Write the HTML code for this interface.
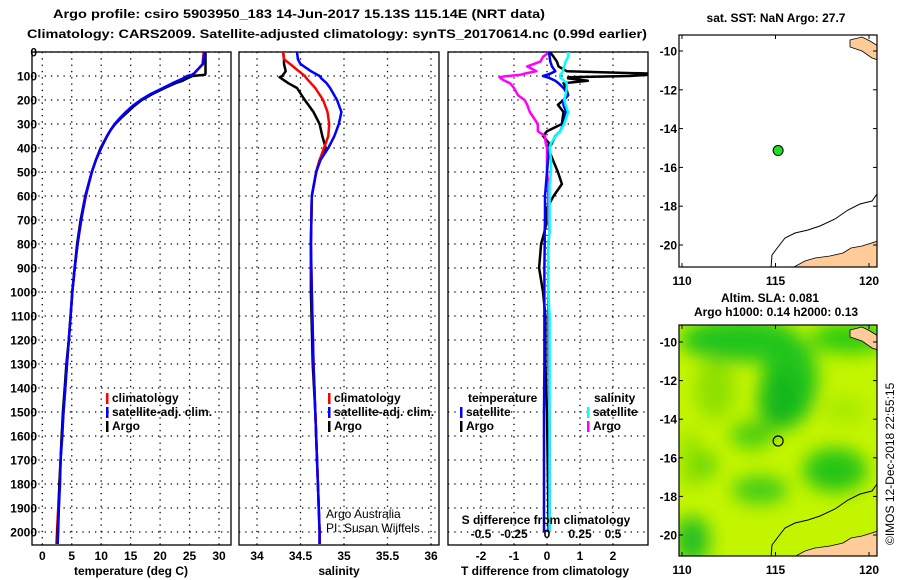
<!DOCTYPE html>
<html><head><meta charset="utf-8">
<style>
html,body{margin:0;padding:0;background:#fff;}
svg{display:block;font-family:"Liberation Sans",Arial,sans-serif;}
.b{font-weight:bold;font-size:12px;}
.r{font-size:12px;}
</style></head>
<body>
<svg id="fig" width="900" height="580" viewBox="0 0 900 580" xmlns="http://www.w3.org/2000/svg">
<defs>
<clipPath id="c1"><rect x="32" y="52" width="199" height="493"/></clipPath>
<clipPath id="c2"><rect x="239" y="52" width="200" height="493"/></clipPath>
<clipPath id="c3"><rect x="448" y="52" width="200" height="493"/></clipPath>
<clipPath id="cm1"><rect x="679" y="35" width="198" height="232"/></clipPath>
<clipPath id="cm2"><rect x="679" y="325" width="198" height="231"/></clipPath>
<filter id="blur" x="-20%" y="-20%" width="140%" height="140%"><feGaussianBlur stdDeviation="9"/></filter>
</defs>
<text x="299" y="18" text-anchor="middle" class="b" font-size="13" textLength="492" lengthAdjust="spacingAndGlyphs">Argo profile: csiro 5903950_183 14-Jun-2017 15.13S 115.14E (NRT data)</text>
<text x="337" y="38" text-anchor="middle" class="b" font-size="13" textLength="620" lengthAdjust="spacingAndGlyphs">Climatology: CARS2009. Satellite-adjusted climatology: synTS_20170614.nc (0.99d earlier)</text>
<g id="grids"></g>
<g id="series"></g>
<g id="maps"></g>
<g id="labels"></g>
</svg>
<script>
// ---------- data ----------
const depthT = [0,50,90,95,100,110,120,130,150,175,200,225,250,275,300,325,350,400,450,500,600,700,800,900,1000,1100,1200,1300,1400,1500,1600,1700,1800,1900,2000,2050];
const argoTemp = [27.7,27.7,27.7,27.6,25.5,24.6,23.8,22.6,20.8,18.7,16.9,15.6,14.5,13.4,12.4,11.6,11.0,9.9,9.1,8.4,7.3,6.5,5.9,5.5,5.1,4.8,4.5,4.1,3.8,3.5,3.3,3.1,2.9,2.8,2.6,2.6];
const climTemp = [27.4,27.2,25.8,25.5,25.0,24.1,23.2,22.3,20.6,18.5,16.7,15.4,14.2,13.2,12.3,11.6,11.0,10.0,9.1,8.4,7.4,6.6,6.0,5.5,5.1,4.8,4.5,4.2,3.9,3.6,3.3,3.1,2.9,2.7,2.5,2.4];
const satTemp = [27.5,27.3,25.7,25.4,24.6,23.9,23.0,22.1,20.5,18.4,16.7,15.3,14.2,13.2,12.3,11.6,11.0,10.0,9.1,8.4,7.3,6.6,6.0,5.5,5.1,4.8,4.5,4.2,3.9,3.6,3.4,3.1,3.0,2.8,2.7,2.6];

const depthS = [0,30,50,80,100,105,110,130,150,200,250,300,350,400,450,500,600,800,1000,1300,1500,1800,2000,2050];
const argoSal = [34.30,34.31,34.31,34.33,34.29,34.26,34.28,34.36,34.46,34.55,34.65,34.72,34.75,34.79,34.72,34.68,34.63,34.62,34.62,34.64,34.67,34.70,34.72,34.72];
const climSal = [34.30,34.31,34.38,34.48,34.55,34.56,34.57,34.62,34.67,34.76,34.81,34.83,34.82,34.77,34.72,34.68,34.63,34.62,34.63,34.65,34.67,34.70,34.72,34.72];
const satSal = [34.46,34.47,34.50,34.62,34.72,34.73,34.74,34.80,34.84,34.92,34.97,34.94,34.89,34.82,34.73,34.68,34.63,34.62,34.63,34.65,34.67,34.70,34.72,34.72];

const depthD = [0,20,40,60,80,90,95,100,105,110,120,130,150,180,200,220,250,300,330,350,380,400,450,500,550,600,650,700,750,800,900,1000,1100,1300,1500,2000];
const argoTdiff = [0.09,0.2,0.3,0.35,0.6,3.1,3.1,2.5,0.64,0.64,1.24,0.5,0.58,0.64,0.5,0.33,0.5,0.45,0.0,-0.12,0.06,0.03,0.18,0.33,0.45,0.2,0.0,0.0,-0.08,-0.18,-0.24,-0.12,-0.05,-0.05,0.0,0.05];
const satTdiff = [0.06,0.08,0.1,0.15,0.25,0.1,0.0,-0.12,0.0,0.1,0.25,0.35,0.5,0.64,0.5,0.5,0.58,0.5,0.4,0.25,0.15,0.06,0.03,0.0,-0.03,-0.06,-0.06,-0.06,-0.07,-0.07,-0.08,-0.08,-0.08,-0.08,-0.09,-0.09];
const satSdiff = [0.16,0.16,0.14,0.13,0.12,0.11,0.10,0.10,0.10,0.11,0.13,0.15,0.15,0.14,0.13,0.14,0.16,0.13,0.1,0.065,0.03,0.02,0.03,0.03,0.02,0.02,0.02,0.02,0.02,0.01,0.01,0.01,0.02,0.02,0.02,0.02];
const argoSdiff = [0.02,-0.03,-0.05,-0.15,-0.08,-0.17,-0.2,-0.3,-0.36,-0.35,-0.32,-0.28,-0.25,-0.22,-0.17,-0.15,-0.13,-0.07,-0.07,-0.015,-0.01,0.0,0.0,0.0,0.01,0.01,0.01,0.01,0.02,0.01,0.01,0.01,0.01,0.01,0.02,0.02];

const depthTicks = [0,100,200,300,400,500,600,700,800,900,1000,1100,1200,1300,1400,1500,1600,1700,1800,1900,2000];
const tempTicks = [0,5,10,15,20,25,30];
const salTicks = ["34","34.5","35","35.5","36"];
const tdiffTicks = ["-2","-1","0","1","2"];
const sdiffTicks = ["-0.5","-0.25","0","0.25","0.5"];
const lonTicks = [110,115,120];
const latTicks = [-10,-12,-14,-16,-18,-20];
const argoLon = 115.14, argoLat = -15.13;

// ---------- axes ----------
const NS = "http://www.w3.org/2000/svg";
const yD = d => 52 + d * 0.24;
const xT = t => 42.3 + t * 5.89;
const xS = s => 257 + (s - 34) * 87;
const xTd = t => 547 + t * 33;
const xSd = s => 547 + s * 132;
const mx = lon => 682 + (lon - 110) * 18.7;
const my1 = lat => 51 + (-10 - lat) * 19.4;
const my2 = lat => 342 + (-10 - lat) * 19.3;

function el(tag, attrs, parent) {
  const e = document.createElementNS(NS, tag);
  for (const k in attrs) e.setAttribute(k, attrs[k]);
  parent.appendChild(e);
  return e;
}
function txt(str, attrs, parent) { const e = el('text', attrs, parent); e.textContent = str; return e; }

const G = document.getElementById('grids');
const S = document.getElementById('series');
const L = document.getElementById('labels');
const M = document.getElementById('maps');

const panels = [
  {x0:32,x1:231,xs:tempTicks.map(xT),lab:tempTicks.map(String),title:"temperature (deg C)",tx:131,clip:'c1',name:'temperature-panel'},
  {x0:239,x1:439,xs:salTicks.map(v=>xS(+v)),lab:salTicks,title:"salinity",tx:339,clip:'c2',name:'salinity-panel'},
  {x0:448,x1:648,xs:tdiffTicks.map(v=>xTd(+v)),lab:tdiffTicks,title:"T difference from climatology",tx:545,clip:'c3',name:'difference-panel'}
];
panels.forEach(p => {
  const g = el('g', {}, G);
  
  
  depthTicks.forEach(d => {
    const ln = el('line', {x1:p.x0,x2:p.x1,y1:yD(d),y2:yD(d),stroke:'#000','stroke-width':1.3,'stroke-dasharray':'1.3 5'}, g);
    
    
  });
  p.xs.forEach((x, i) => {
    const ln = el('line', {x1:x,x2:x,y1:52,y2:545,stroke:'#000','stroke-width':1.3,'stroke-dasharray':'1.3 5'}, g);
    
    
    const t = txt(p.lab[i], {x:x,y:560,'text-anchor':'middle',class:'b'}, L);
    
    
  });
  const r = el('rect', {x:p.x0,y:52,width:p.x1-p.x0,height:493,fill:'none',stroke:'#000','stroke-width':1.3}, g);
  
  
  const t = txt(p.title, {x:p.tx,y:575,'text-anchor':'middle',class:'b'}, L);
  
  
});
depthTicks.forEach(d => {
  const t = txt(String(d), {x:37,y:yD(d)+4.5,'text-anchor':'end',class:'b'}, L);
  
  
});
sdiffTicks.forEach(v => {
  const t = txt(v, {x:xSd(+v),y:538,'text-anchor':'middle',class:'b'}, L);
  
  
});

function line(depths, vals, fx, color, clip, name, w) {
  const d = vals.map((v, i) => (i ? 'L' : 'M') + fx(v).toFixed(1) + ' ' + yD(depths[i]).toFixed(1)).join(' ');
  const p = el('path', {d:d,fill:'none',stroke:color,'stroke-width':w||2.5,'stroke-linejoin':'round','clip-path':'url(#'+clip+')'}, S);
  
  
}
line(depthT, climTemp, xT, '#ff0000', 'c1', 'climatology-temperature-line');
line(depthT, argoTemp, xT, '#000000', 'c1', 'argo-temperature-line');
line(depthT, satTemp, xT, '#0000ff', 'c1', 'satellite-temperature-line');
line(depthS, argoSal, xS, '#000000', 'c2', 'argo-salinity-line');
line(depthS, climSal, xS, '#ff0000', 'c2', 'climatology-salinity-line');
line(depthS, satSal, xS, '#0000ff', 'c2', 'satellite-salinity-line');
line(depthD, argoTdiff, xTd, '#000000', 'c3', 'argo-t-diff-line');
line(depthD, argoSdiff, xSd, '#ff00ff', 'c3', 'argo-s-diff-line');
line(depthD, satTdiff, xTd, '#0000ff', 'c3', 'satellite-t-diff-line');
line(depthD, satSdiff, xSd, '#00ffff', 'c3', 'satellite-s-diff-line');

// legends
function legend(items, x, y0, gname) {
  const g = el('g', {}, L);
  
  
  items.forEach((it, i) => {
    const y = y0 + i * 14;
    if (it[1]) {
      const m = el('rect', {x:x,y:y-9,width:2.5,height:11,fill:it[1]}, g);
      
      
    }
    const t = txt(it[0], {x:x+(it[1]?6:0),y:y,class:'b'}, g);
    
    
  });
}
legend([['climatology','#ff0000'],['satellite-adj. clim.','#0000ff'],['Argo','#000000']], 106, 402, 'temperature-legend');
legend([['climatology','#ff0000'],['satellite-adj. clim.','#0000ff'],['Argo','#000000']], 328, 402, 'salinity-legend');
legend([['temperature',null]], 468, 402, 'diff-legend-temperature-title');
legend([['satellite','#0000ff'],['Argo','#000000']], 460, 416, 'diff-legend-temperature');
legend([['salinity',null]], 594, 402, 'diff-legend-salinity-title');
legend([['satellite','#00ffff'],['Argo','#ff00ff']], 587, 416, 'diff-legend-salinity');

let t;
t = txt('Argo Australia', {x:326,y:518,class:'r'}, L);
 
t = txt('PI: Susan Wijffels', {x:326,y:532,class:'r'}, L);
 
t = txt('S difference from climatology', {x:546,y:524,'text-anchor':'middle',class:'b'}, L);
 

// ---------- maps ----------
function mapFrame(top, bottom, fy, name) {
  const g = el('g', {}, M);
  
  
  lonTicks.forEach(lon => {
    el('line', {x1:mx(lon),x2:mx(lon),y1:top,y2:top+4,stroke:'#000'}, g);
    el('line', {x1:mx(lon),x2:mx(lon),y1:bottom,y2:bottom-4,stroke:'#000'}, g);
    const tt = txt(String(lon), {x:mx(lon),y:bottom+18,'text-anchor':'middle',class:'b'}, g);
    
    
  });
  latTicks.forEach(lat => {
    el('line', {x1:679,x2:683,y1:fy(lat),y2:fy(lat),stroke:'#000'}, g);
    el('line', {x1:877,x2:873,y1:fy(lat),y2:fy(lat),stroke:'#000'}, g);
    const tt = txt(String(lat), {x:677,y:fy(lat)+4.5,'text-anchor':'end',class:'b'}, g);
    
    
  });
  return g;
}
function geo(top, clip) {
  const g = el('g', {'clip-path':'url(#'+clip+')'}, M);
  const off = top - 35;
  const p1 = el('path', {d:`M850 ${40+off} L862 ${37+off} L870 ${41+off} L878 ${46+off} L878 ${60+off} L872 ${58+off} L862 ${51+off} L850 ${47+off} Z`,fill:'#ffcc99',stroke:'#000','stroke-width':0.8}, g);
  
  
  const p2 = el('path', {d:`M792 ${268+off} L805 ${261+off} L815 ${258+off} L830 ${256+off} L843 ${253+off} L851 ${248+off} L862 ${246+off} L878 ${241+off} L878 ${268+off} Z`,fill:'#ffcc99',stroke:'#000','stroke-width':0.8}, g);
  
  
  const c = el('path', {d:`M771 ${268+off} L772 ${255+off} L778 ${247+off} L785 ${238+off} L795 ${233+off} L808 ${230+off} L820 ${226+off} L835 ${219+off} L848 ${210+off} L860 ${204+off} L872 ${201+off} L877 ${194+off}`,fill:'none',stroke:'#000','stroke-width':1}, g);
  
  
}
// map 1
let mt = txt('sat. SST: NaN Argo: 27.7', {x:776,y:22,'text-anchor':'middle',class:'b'}, M);
 
geo(35, 'cm1');
let f1 = el('rect', {x:679,y:35,width:198,height:232,fill:'none',stroke:'#000','stroke-width':1.2}, M);
 
mapFrame(35, 267, my1, 'sst-map-axes');
let dot = el('circle', {cx:mx(argoLon),cy:my1(argoLat),r:5,fill:'#22dd22',stroke:'#000','stroke-width':1}, M);
 

// map 2
mt = txt('Altim. SLA: 0.081', {x:770,y:302,'text-anchor':'middle',class:'b'}, M);
 
mt = txt('Argo h1000: 0.14 h2000: 0.13', {x:776,y:316,'text-anchor':'middle',class:'b'}, M);
 
const fld = el('g', {'clip-path':'url(#cm2)'}, M);


el('rect', {x:679,y:325,width:198,height:231,fill:'#c4f500'}, fld);
const blobs = el('g', {filter:'url(#blur)'}, fld);
[[740,340,60,22,'#22c41a'],[790,380,28,45,'#22c41a'],[780,400,22,30,'#19b81a'],[850,338,40,16,'#30cc10'],[752,435,22,14,'#4ccf10'],[715,390,20,30,'#8ee005'],[835,470,32,22,'#28c418'],[700,465,16,14,'#4ccf10'],[760,490,28,14,'#42cc12'],[692,540,18,24,'#28c020'],[690,460,10,30,'#8ee005'],[845,410,22,14,'#a8ea00']].forEach(b => {
  el('ellipse', {cx:b[0],cy:b[1],rx:b[2],ry:b[3],fill:b[4]}, blobs);
});
geo(325, 'cm2');
let f2 = el('rect', {x:679,y:325,width:198,height:231,fill:'none',stroke:'#000','stroke-width':1.2}, M);
 
mapFrame(325, 556, my2, 'sla-map-axes');
let ring = el('circle', {cx:mx(argoLon),cy:my2(argoLat),r:5,fill:'none',stroke:'#000','stroke-width':1.2}, M);
 

mt = txt('©IMOS 12-Dec-2018 22:55:15', {x:0,y:0,class:'r','transform':'translate(894,545) rotate(-90)'}, M);
 
</script>
</body></html>
